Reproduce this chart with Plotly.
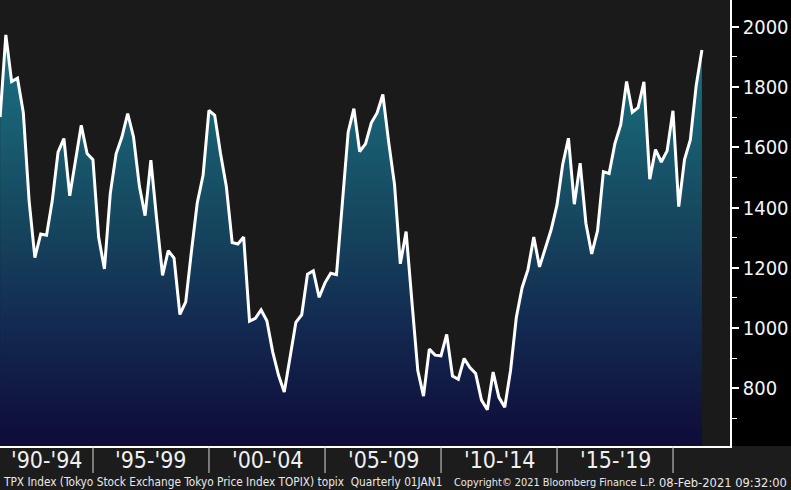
import pandas as pd
import plotly.graph_objects as go

# Quarterly TOPIX closes, Q4 1990 .. Q1 2021
quarters = pd.date_range("1990-12-31", "2021-03-31", freq="QE")
topix = [
    1700, 1973, 1818, 1829, 1715,
    1423, 1234, 1312, 1308,
    1423, 1584, 1629, 1439,
    1557, 1673, 1579, 1559,
    1301, 1196, 1446, 1578,
    1634, 1712, 1634, 1471,
    1373, 1557, 1360, 1175,
    1257, 1232, 1045, 1087,
    1255, 1415, 1507, 1722,
    1706, 1580, 1470, 1284,
    1279, 1302, 1023, 1032,
    1060, 1024, 921, 843,
    788, 903, 1019, 1044,
    1179, 1190, 1102, 1150,
    1182, 1177, 1412, 1650,
    1728, 1586, 1611, 1681,
    1714, 1775, 1617, 1476,
    1213, 1320, 1087, 859,
    774, 930, 910, 908,
    979, 841, 830, 899,
    869, 849, 761, 729,
    854, 770, 737, 860,
    1035, 1134, 1194, 1302,
    1203, 1263, 1326, 1408,
    1543, 1630, 1411, 1547,
    1347, 1246, 1323, 1519,
    1513, 1612, 1675, 1818,
    1716, 1731, 1817, 1494,
    1592, 1551, 1588, 1721,
    1403, 1559, 1625, 1805,
    1923,
]

y_ticks = [800, 1000, 1200, 1400, 1600, 1800, 2000]
y_minor = [700, 900, 1100, 1300, 1500, 1700, 1900]
period_labels = ["'90-'94", "'95-'99", "'00-'04", "'05-'09", "'10-'14", "'15-'19"]
period_bounds = ["1990-01-01", "1995-01-01", "2000-01-01", "2005-01-01",
                 "2010-01-01", "2015-01-01", "2020-01-01"]
x_start, x_end = "1990-12-29", "2022-06-16"

footer_left = "TPX Index (Tokyo Stock Exchange Tokyo Price Index TOPIX) topix  Quarterly 01JAN1"
footer_mid = "Copyright\u00a9 2021 Bloomberg Finance L.P."
footer_right = "08-Feb-2021 09:32:00"

W, H = 791, 490
PW, PH = 730, 446
CFONT = "DejaVu Sans Condensed, DejaVu Sans"

fig = go.Figure()
fig.add_trace(go.Scatter(
    x=quarters, y=topix, mode="lines",
    line=dict(color="white", width=3),
    fill="tozeroy",
    fillgradient=dict(
        type="vertical", start=608, stop=2000,
        colorscale=[[0.0, "#0f0b39"], [0.15, "#111b45"], [0.3, "#132b52"],
                    [0.55, "#16485f"], [0.8, "#196275"], [1.0, "#1b7384"]],
    ),
    hoverinfo="skip", showlegend=False,
))

shapes = [
    # black right margin above the label band
    dict(type="rect", xref="paper", yref="paper", x0=1, x1=W / PW, y0=0, y1=1,
         fillcolor="#000000", line=dict(width=0), layer="below"),
]
annotations = []
t0 = pd.Timestamp(x_start)
for b in period_bounds:
    if pd.Timestamp(b) > t0:
        shapes.append(dict(type="line", xref="x", yref="paper", x0=b, x1=b,
                           y0=0, y1=-27 / PH, line=dict(color="#d8d8d8", width=1)))
for i, lab in enumerate(period_labels):
    a = max(pd.Timestamp(period_bounds[i]), t0)
    b = pd.Timestamp(period_bounds[i + 1])
    mid = a + (b - a) / 2
    annotations.append(dict(x=mid, y=-14 / PH, xref="x", yref="paper", text=lab,
                            showarrow=False, xanchor="center", yanchor="middle",
                            font=dict(family=CFONT, size=23, color="#f0f0f0")))

foot_color = "#e8e8e8"
annotations += [
    dict(x=1 / PW, y=-36 / PH, xref="paper", yref="paper", text=footer_left,
         showarrow=False, xanchor="left", yanchor="middle",
         font=dict(family=CFONT, size=11.75, color=foot_color)),
    dict(x=452 / PW, y=-36 / PH, xref="paper", yref="paper", text=footer_mid,
         showarrow=False, xanchor="left", yanchor="middle",
         font=dict(family=CFONT, size=10.9, color=foot_color)),
    dict(x=789 / PW, y=-36 / PH, xref="paper", yref="paper", text=footer_right,
         showarrow=False, xanchor="right", yanchor="middle",
         font=dict(family=CFONT, size=12.8, color=foot_color)),
]

fig.update_layout(
    width=W, height=H,
    margin=dict(l=0, r=W - PW, t=0, b=H - PH, pad=0),
    paper_bgcolor="#1c1c1c", plot_bgcolor="#1a1a1a",
    shapes=shapes, annotations=annotations,
    xaxis=dict(type="date", range=[x_start, x_end], showgrid=False, zeroline=False,
               showticklabels=False, ticks="", showline=True, linecolor="white",
               linewidth=1.5),
    yaxis=dict(side="right", range=[608.6, 2088.6], tickvals=y_ticks,
               showgrid=False, zeroline=False, showline=True, linecolor="white",
               linewidth=1.5, ticks="outside", ticklen=7, tickwidth=2,
               tickcolor="white", ticklabelstandoff=0,
               tickfont=dict(family=CFONT, size=20, color="#f4f4f4"),
               minor=dict(tickvals=y_minor, ticks="outside", ticklen=5,
                          tickwidth=1, tickcolor="white")),
)

fig.write_html("out.html", config={"displayModeBar": False},
               post_script="document.body.style.margin='0';document.body.style.padding='0';")
